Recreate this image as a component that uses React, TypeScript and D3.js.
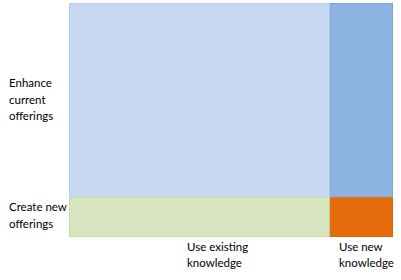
import React from "react";
import * as d3 from "d3";

const columns = ["Use existing knowledge", "Use new knowledge"];
const columnShares = [80.5, 19.5];
const rows = ["Enhance current offerings", "Create new offerings"];
const rowShares = [83, 17];
const rowLabelLines = [["Enhance", "current", "offerings"], ["Create new", "offerings"]];
const colLabelLines = [["Use existing", "knowledge"], ["Use new", "knowledge"]];
const fills = [["#c6d9f1", "#8db3e2"], ["#d7e4bd", "#e46c0a"]];
const strokes = [["#b9cfee", "#7aa6dd"], ["#c9dbab", "#d9650a"]];

export default function App() {
  const W = 401, H = 280;
  const left = 69, right = 393, top = 3, bottom = 237;
  const colCum = d3.cumsum(columnShares);
  const xScale = d3.scaleLinear().domain([0, d3.sum(columnShares)]).range([left, right]);
  const rowCum = d3.cumsum(rowShares);
  const yScale = d3.scaleLinear().domain([0, d3.sum(rowShares)]).range([top, bottom]);
  const font = "Lato, 'Open Sans', sans-serif";
  const rowLabelY = [84, 208];
  const colLabelX = [187, 339];
  return (
    <svg width={W} height={H} style={{ position: "absolute", left: 0, top: 0 }}>
      <rect width={W} height={H} fill="#fff" />
      {rows.map((r, ri) =>
        columns.map((c, ci) => {
          const x0 = xScale(ci === 0 ? 0 : colCum[ci - 1]);
          const x1 = xScale(colCum[ci]);
          const y0 = yScale(ri === 0 ? 0 : rowCum[ri - 1]);
          const y1 = yScale(rowCum[ri]);
          return (
            <rect key={r + c} x={x0 + 0.5} y={y0 + 0.5} width={x1 - x0 - 1} height={y1 - y0 - 1}
              fill={fills[ri][ci]} stroke={strokes[ri][ci]} strokeWidth={1} />
          );
        })
      )}
      {rowLabelLines.map((lines, ri) => (
        <text key={ri} x={9} y={rowLabelY[ri]} fontFamily={font} fontSize={11.5} fill="#000" dominantBaseline="middle">
          {lines.map((l, i) => (
            <tspan key={i} x={9} dy={i === 0 ? 0 : 16.5}>{l}</tspan>
          ))}
        </text>
      ))}
      {colLabelLines.map((lines, ci) => (
        <text key={ci} x={colLabelX[ci]} y={248} fontFamily={font} fontSize={11.5} fill="#000" dominantBaseline="middle">
          {lines.map((l, i) => (
            <tspan key={i} x={colLabelX[ci]} dy={i === 0 ? 0 : 16}>{l}</tspan>
          ))}
        </text>
      ))}
    </svg>
  );
}
